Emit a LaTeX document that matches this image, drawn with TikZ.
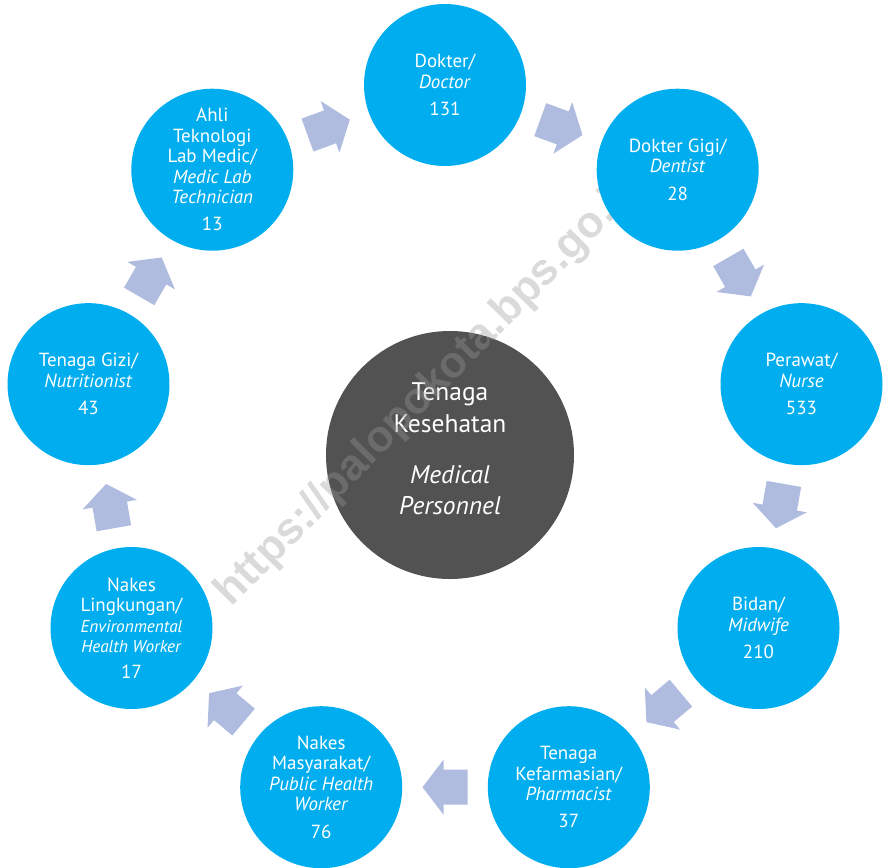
\documentclass[tikz,border=0pt]{standalone}
\usepackage{fontspec}
\setmainfont{PT Sans}
\newfontfamily\markfont{Liberation Sans}
\usepackage{tikz}
\usetikzlibrary{calc}

\definecolor{cyanfill}{HTML}{00AEEF}
\definecolor{arrowfill}{HTML}{AFBCE0}
\definecolor{darkfill}{HTML}{525252}

\tikzset{
  group/.style={circle, fill=cyanfill, minimum size=3.24cm, inner sep=0pt,
    text=white, align=center, font=\fontsize{10.8}{11.6}\selectfont},
  personnel/.style={circle, fill=darkfill, minimum size=4.96cm, inner sep=0pt,
    text=white, align=center, font=\fontsize{14.5}{18}\selectfont},
  flow arrow/.pic={
    \fill[arrowfill] (-0.450000,-0.350000) -- (0.030000,-0.350000) -- (0.030000,-0.550000)
      -- (0.450000,0.000000) -- (0.030000,0.550000) -- (0.030000,0.350000)
      -- (-0.450000,0.350000) -- cycle;
  }
}

% block arrow half way between two circles, turned along them
\newcommand{\flowarrow}[2]{%
  \path let \p1=($(#2)-(#1)$), \n1={atan2(\y1,\x1)} in
    ($(#1)!0.5!(#2)$) pic[rotate=\n1] {flow arrow};%
}
\newcommand{\smallit}[1]{{\fontsize{9.8}{10.6}\selectfont\textit{#1}}}

\begin{document}
\begin{tikzpicture}
        \useasboundingbox (0.000000,0.000000) rectangle (17.660000,-17.340000);

        % Drawing centre circle
        \node [personnel] (total) at (9.000000,-9.100000)
          {Tenaga\\Kesehatan\\[11pt]\textit{Medical}\\\textit{Personnel}\rule[-7pt]{0pt}{7pt}};%

        % Marking watermark
        \node [rotate=45.5, text=gray!80, opacity=0.36, font=\markfont\bfseries\fontsize{25}{30}\selectfont]
          (mark) at (8.600000,-7.800000) {https://palopokota.bps.go.id};%

        % Drawing ring of circles
        \node [group] (doctor) at (8.900000,-1.700000)
          {Dokter/\\\textit{Doctor}\\[4pt]131};%
        \node [group] (dentist) at (13.554000,-3.394000)
          {Dokter Gigi/\\\textit{Dentist}\\[4pt]28};%
        \node [group] (nurse) at (16.030000,-7.683000)
          {Perawat/\\\textit{Nurse}\\[4pt]533};%
        \node [group] (midwife) at (15.170000,-12.560000)
          {Bidan/\\\textit{Midwife}\\[4pt]210};%
        \node [group] (pharmacist) at (11.376000,-15.744000)
          {Tenaga\\Kefarmasian/\\\textit{Pharmacist}\\[4pt]37};%
        \node [group] (publichealth) at (6.424000,-15.744000)
          {Nakes\\Masyarakat/\\\textit{Public Health}\\\textit{Worker}\\[4pt]76};%
        \node [group] (envworker) at (2.630000,-12.560000)
          {Nakes\\Lingkungan/\\\smallit{Environmental}\\\smallit{Health Worker}\\[3pt]17};%
        \node [group] (nutritionist) at (1.770000,-7.683000)
          {Tenaga Gizi/\\\textit{Nutritionist}\\[4pt]43};%
        \node [group] (medlab) at (4.246000,-3.394000)
          {Ahli\\Teknologi\\Lab Medic/\\\textit{Medic Lab}\\\textit{Technician}\\[4pt]13};%

        % Drawing arrows round the ring
        \flowarrow{medlab}{doctor}
        \flowarrow{doctor}{dentist}
        \flowarrow{dentist}{nurse}
        \flowarrow{nurse}{midwife}
        \flowarrow{midwife}{pharmacist}
        \flowarrow{pharmacist}{publichealth}
        \flowarrow{publichealth}{envworker}
        \flowarrow{envworker}{nutritionist}
        \flowarrow{nutritionist}{medlab}
\end{tikzpicture}
\end{document}
